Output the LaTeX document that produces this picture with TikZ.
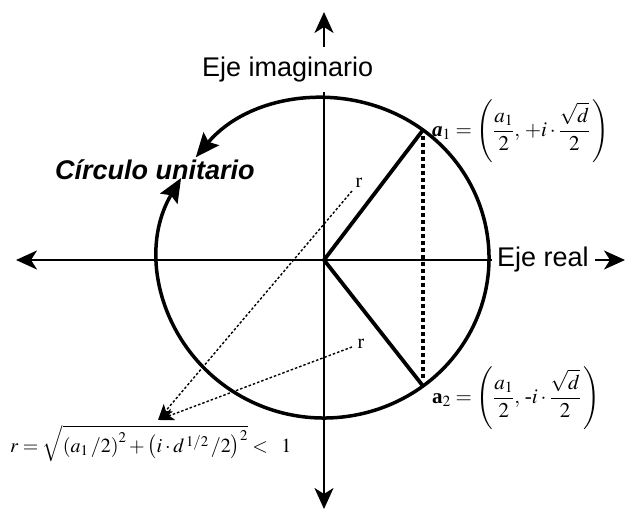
\documentclass[tikz,border=0pt]{standalone}
\usepackage{amsmath}
\usepackage{mathptmx}
\usepackage{fontspec}
\setmainfont{Liberation Serif}
\newfontfamily\arial{Liberation Sans}
\usetikzlibrary{arrows.meta}
\begin{document}
\begin{tikzpicture}[x=1pt,y=1pt,
  axis/.style={line width=2pt},
  axtip/.style={-{Stealth[length=21pt,width=19pt,inset=6pt]}},
  circ/.style={line width=3.5pt},
  circtip/.style={{Stealth[length=24pt,width=20pt,inset=4pt]}-{Stealth[length=24pt,width=20pt,inset=4pt]}},
  tri/.style={line width=3.8pt},
  vdots/.style={line width=3.5pt,dash pattern=on 4pt off 3pt},
  dotline/.style={line width=1.4pt,dash pattern=on 2.5pt off 2pt,-{Stealth[length=16pt,width=12pt,inset=4pt]}},
  sans/.style={font=\arial\fontsize{27}{30}\selectfont,inner sep=0pt},
  mathlbl/.style={font=\fontsize{21}{24}\selectfont,inner sep=0pt},
  rlbl/.style={font=\fontsize{20}{22}\selectfont,inner sep=0pt}]
\useasboundingbox (0,0) rectangle (626,517);
% key points
\coordinate (O) at (324,257);
\coordinate (C) at (324,259);
\coordinate (L) at (16,257);
\coordinate (R) at (625,257);
\coordinate (T) at (324,505);
\coordinate (T1) at (324,470);
\coordinate (B1) at (324,425);
\coordinate (B) at (324,8);
\coordinate (P1) at (423,387);
\coordinate (P2) at (423,131);
\coordinate (tip) at (158,97);
% labels
\node[sans,anchor=base west] (ejeim) at (202,440) {Eje imaginario};
\node[sans,anchor=base west] (ejereal) at (497,250) {Eje real};
\node[sans,anchor=base west,font=\arial\bfseries\itshape\fontsize{27}{30}\selectfont] (circ) at (55,337) {Círculo unitario};
\node[rlbl] (r1) at (359,334) {r};
\node[rlbl] (r2) at (361,173) {r};
\node[mathlbl,anchor=west] (a1) at (432,386) {$\textbf{\textit{a}}_1 = \left(\dfrac{a_1}{2},\, {+}i\cdot\dfrac{\sqrt{d}}{2}\,\right)$};
\node[mathlbl,anchor=west] (a2) at (432,119) {$\textbf{a}_2 = \left(\dfrac{a_1}{2},\, \text{-}i\cdot\dfrac{\sqrt{d}}{2}\,\right)$};
\node[font=\fontsize{20}{23}\selectfont,inner sep=0pt,anchor=base west] (rform) at (10,65)
  {$r=\sqrt{\left(a_1\,/2\right)^2+\left(i\cdot d^{\,1/2}\,/2\right)^2}\mathrel{<}\;\;1$};
% axes
\draw[axis,axtip] (T1) -- (T);
\draw[axis,axtip] (B1) -- (B);
\draw[axis,axtip] (ejereal.west |- O) ++(-5,0) -- (L);
\draw[axis,axtip] ([xshift=6pt]ejereal.east |- O) -- (R);
% unit circle with gap for label
\draw[circ,circtip] ([shift={(150:165 and 160)}]C) arc[start angle=150,end angle=501,x radius=165,y radius=160];
% triangle
\draw[tri] (P1) -- (O) -- (P2);
\draw[vdots] ([yshift=-6pt]P1) -- ([yshift=6pt]P2);
% r dotted arrows
\draw[dotline] ([shift={(-7,-8)}]r1.center) -- (tip);
\draw[dotline] ([shift={(-9,-3)}]r2.center) -- (tip);
\end{tikzpicture}
\end{document}
